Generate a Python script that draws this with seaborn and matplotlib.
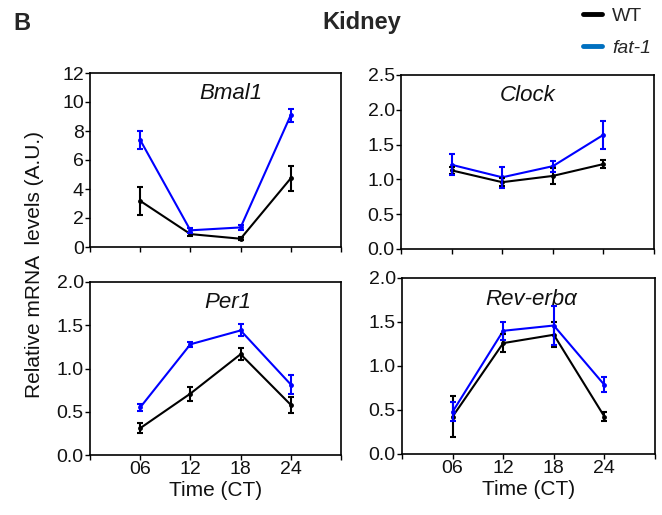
import numpy as np
import pandas as pd
import matplotlib
matplotlib.use("Agg")
import matplotlib.pyplot as plt
from matplotlib.lines import Line2D
import seaborn as sns

sns.set_theme(style="ticks")
plt.rcParams['font.family'] = ['Liberation Sans', 'DejaVu Sans']

# ---- data ----
times = [6, 12, 18, 24]
time_labels = ["06", "12", "18", "24"]
genes = ["Bmal1", "Clock", "Per1", "Rev-erbα"]
groups = ["WT", "fat-1"]

bmal1_wt = [3.18, 0.89, 0.57, 4.74]
bmal1_wt_se = [0.95, 0.10, 0.10, 0.88]
bmal1_fat1 = [7.38, 1.15, 1.35, 9.10]
bmal1_fat1_se = [0.60, 0.15, 0.18, 0.45]

clock_wt = [1.13, 0.96, 1.05, 1.22]
clock_wt_se = [0.05, 0.06, 0.12, 0.06]
clock_fat1 = [1.21, 1.03, 1.19, 1.64]
clock_fat1_se = [0.15, 0.15, 0.08, 0.20]

per1_wt = [0.31, 0.71, 1.165, 0.58]
per1_wt_se = [0.06, 0.08, 0.07, 0.09]
per1_fat1 = [0.55, 1.28, 1.44, 0.815]
per1_fat1_se = [0.04, 0.03, 0.07, 0.11]

reverb_wt = [0.425, 1.26, 1.355, 0.425]
reverb_wt_se = [0.23, 0.10, 0.14, 0.05]
reverb_fat1 = [0.48, 1.40, 1.46, 0.785]
reverb_fat1_se = [0.11, 0.10, 0.22, 0.085]

y_max = [12, 2.5, 2.0, 2.0]
y_step = [2, 0.5, 0.5, 0.5]
y_fmt = ["{:.0f}", "{:.1f}", "{:.1f}", "{:.1f}"]

values = {
    "Bmal1": (bmal1_wt, bmal1_wt_se, bmal1_fat1, bmal1_fat1_se),
    "Clock": (clock_wt, clock_wt_se, clock_fat1, clock_fat1_se),
    "Per1": (per1_wt, per1_wt_se, per1_fat1, per1_fat1_se),
    "Rev-erbα": (reverb_wt, reverb_wt_se, reverb_fat1, reverb_fat1_se),
}

rows = []
for g in genes:
    wt, wt_se, f1, f1_se = values[g]
    for i, t in enumerate(times):
        rows.append(dict(gene=g, group="WT", time=t, value=wt[i], se=wt_se[i]))
        rows.append(dict(gene=g, group="fat-1", time=t, value=f1[i], se=f1_se[i]))
df = pd.DataFrame(rows)

colors = {"WT": "#000000", "fat-1": "#0000FF"}
legend_colors = {"WT": "#000000", "fat-1": "#0070C0"}

W, H = 662, 515
fig = plt.figure(figsize=(W / 100, H / 100), dpi=100)

boxes = [(90, 73, 341, 247), (401, 75, 654, 249), (90, 282, 341, 455), (402, 278, 655, 454)]
title_x = [0.56, 0.5, 0.55, 0.51]

for k, g in enumerate(genes):
    x0, y0, x1, y1 = boxes[k]
    ax = fig.add_axes([x0 / W, 1 - y1 / H, (x1 - x0) / W, (y1 - y0) / H])
    sub = df[df.gene == g]
    sns.lineplot(data=sub, x="time", y="value", hue="group", hue_order=groups,
                 palette=colors, errorbar=None, legend=False, ax=ax,
                 linewidth=1.5, marker="o", markersize=3.5, markeredgewidth=0)
    for grp in groups:
        s = sub[sub.group == grp]
        ax.errorbar(s.time, s.value, yerr=s.se, fmt="none", ecolor=colors[grp],
                    elinewidth=1.5, capsize=2.2, capthick=1.5)
    ax.set_xlim(0, 30)
    ax.set_ylim(0, y_max[k])
    yt = np.arange(0, y_max[k] + 1e-9, y_step[k])
    ax.set_yticks(yt)
    ax.set_yticklabels([y_fmt[k].format(v) for v in yt])
    ax.set_xticks([0] + times + [30])
    if k >= 2:
        ax.set_xticklabels([""] + time_labels + [""])
        ax.set_xlabel("Time (CT)", fontsize=15, labelpad=2, color="#111111")
    else:
        ax.set_xticklabels([])
        ax.set_xlabel("")
    ax.set_ylabel("")
    ax.tick_params(axis="both", direction="out", length=3.5, width=1, labelsize=14,
                   colors="black", labelcolor="#111111", pad=1)
    for sp in ax.spines.values():
        sp.set_linewidth(1.2)
        sp.set_color("black")
    ax.text(title_x[k], 0.88, g, transform=ax.transAxes, ha="center", va="center",
            fontsize=16, fontstyle="italic", color="#111111")

fig.text(35 / W, 1 - 265 / H, "Relative mRNA  levels (A.U.)", rotation=90,
         ha="center", va="center", fontsize=15, color="#111111")
fig.text(13 / W, 1 - 24 / H, "B", ha="left", va="center", fontsize=17, fontweight="bold")
fig.text(362 / W, 1 - 22 / H, "Kidney", ha="center", va="center", fontsize=17,
         fontweight="bold")

handles = [Line2D([0], [0], color=legend_colors[g], lw=3.5) for g in groups]
leg = fig.legend(handles, groups, loc="upper left", bbox_to_anchor=(583 / W, 1 - 7 / H),
                 frameon=False, fontsize=14, handlelength=1.0, handletextpad=0.5,
                 labelspacing=0.75, borderaxespad=0, borderpad=0)
leg.get_texts()[1].set_fontstyle("italic")

fig.savefig("out.png", dpi=100)
